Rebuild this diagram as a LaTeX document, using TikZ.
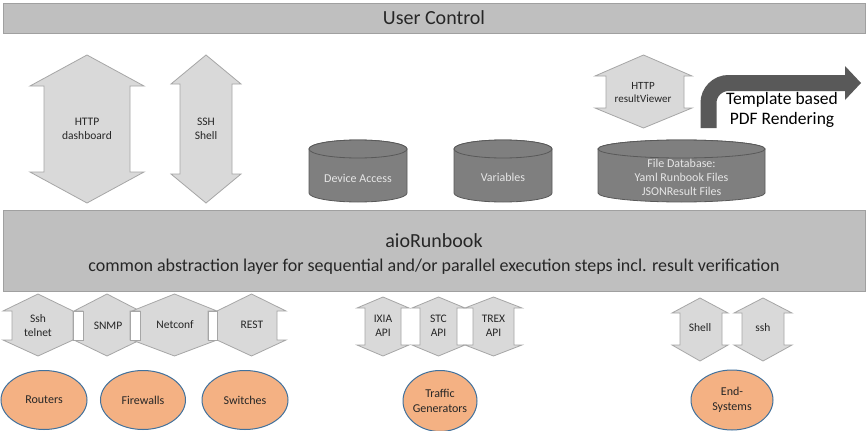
\documentclass[tikz,border=0pt]{standalone}
\usepackage{fontspec}
\setmainfont{Carlito}
\usetikzlibrary{shapes.geometric}
\definecolor{barfill}{HTML}{BFBFBF}
\definecolor{barline}{HTML}{A0A0A0}
\definecolor{arrfill}{HTML}{D9D9D9}
\definecolor{arrline}{HTML}{A6A6A6}
\definecolor{cylfill}{HTML}{7F7F7F}
\definecolor{cylline}{HTML}{595959}
\definecolor{cyltext}{HTML}{E6E6E6}
\definecolor{darkarrow}{HTML}{595959}
\definecolor{devfill}{HTML}{F4B183}
\definecolor{devline}{HTML}{41719C}
\definecolor{txt}{HTML}{262626}
\newcommand{\vdarrow}[8]{%
  \pgfmathsetmacro{\vdtipx}{(#1+#4)/2}%
  \filldraw[arrowshape] (\vdtipx,#5) -- (#4,#6) -- (#3,#6) -- (#3,#7) -- (#4,#7) -- (\vdtipx,#8) -- (#1,#7) -- (#2,#7) -- (#2,#6) -- (#1,#6) -- cycle;}
\newcommand{\cylshape}[5]{% cx, rx, ytopcenter, ybottomcenter, ry
  \filldraw[cyl] ({#1-#2},#3) -- ({#1-#2},#4) arc[start angle=180,end angle=360,x radius=#2pt,y radius=#5pt] -- ({#1+#2},#3) arc[start angle=0,end angle=180,x radius=#2pt,y radius=#5pt] -- cycle;
  \draw[cyl] (#1,#3) ellipse[x radius=#2pt,y radius=#5pt];}
\begin{document}
\begin{tikzpicture}[x=1pt,y=-1pt,
  bar/.style={rectangle,fill=barfill,draw=barline,line width=1pt,inner sep=0pt},
  arrowshape/.style={fill=arrfill,draw=arrline,line width=0.8pt,line join=miter},
  gapbox/.style={fill=white,draw=arrline,line width=0.8pt},
  cyl/.style={fill=cylfill,draw=cylline,line width=0.8pt},
  device/.style={ellipse,fill=devfill,draw=devline,line width=1pt,inner sep=0pt},
  lbl/.style={font=\fontsize{11.5}{14}\selectfont,text=txt,align=center,inner sep=0pt},
  cyllbl/.style={lbl,font=\fontsize{12}{14}\selectfont,text=cyltext},
  devlbl/.style={lbl,font=\fontsize{12}{15}\selectfont},
  bigtxt/.style={font=\fontsize{20}{24}\selectfont,text=txt,inner sep=0pt},
  midtxt/.style={font=\fontsize{18}{21}\selectfont,text=txt,inner sep=0pt},
  rendtxt/.style={font=\fontsize{17.5}{20}\selectfont,text=black,inner sep=0pt,align=center}]
\useasboundingbox (0,0) rectangle (868,431);
\fill[white] (0,0) rectangle (868,431);

% top bar
\node[bar,minimum width=862pt,minimum height=30pt] (uc) at (434,18) {};
\node[bigtxt] (uctext) at (434,18) {User Control};

% upper arrows
\vdarrow{30}{44}{130}{144}{55}{86}{172}{203}
\node[lbl] (dash) at (87,129) {HTTP\\dashboard};
\vdarrow{171}{180}{232}{241}{55}{84}{174}{203}
\node[lbl] (sshshell) at (206,129) {SSH\\Shell};
\vdarrow{595}{606}{684}{692}{55}{76}{108}{128}
\node[lbl,font=\fontsize{11}{13}\selectfont] (rv) at (643,93) {HTTP\\resultViewer};

% curved arrow
\draw[darkarrow,line width=16pt,rounded corners=20pt] (708.5,128) |- (845,83);
\fill[darkarrow] (845,66) -- (861,83) -- (845,100) -- cycle;
\node[rendtxt] (pdf) at (782,110) {Template based\\PDF Rendering};

% cylinders
\cylshape{358}{49}{149}{193}{9}
\node[cyllbl] (dev) at (358,178) {Device Access};
\cylshape{503}{49}{149}{193}{9}
\node[cyllbl] (var) at (503,177) {Variables};
\cylshape{681.5}{83.5}{149}{193}{9}
\node[cyllbl] (fdb) at (681.5,177) {File Database:\\Yaml Runbook Files\\JSONResult Files};

% aioRunbook bar
\node[bar,minimum width=862pt,minimum height=81pt] (aio) at (434,250.5) {};
\node[bigtxt] (aiot) at (434,241) {aioRunbook};
\node[midtxt] (aios) at (434,267) {common abstraction layer for sequential and/or parallel execution steps incl. result verification};

% device protocol arrows
\vdarrow{3}{12}{73}{73}{294}{311}{340}{356}
\vdarrow{74}{83}{130}{140}{294}{311}{340}{356}
\vdarrow{132}{140}{208}{217}{294}{311}{340}{356}
\vdarrow{217}{217}{277}{286}{294}{311}{340}{356}
\draw[gapbox] (73,311) rectangle (83,340);
\draw[gapbox] (130,311) rectangle (140,340);
\draw[gapbox] (208,311) rectangle (217,340);
\node[lbl] (ssh) at (38,326) {Ssh\\telnet};
\node[lbl] (snmp) at (108,326) {SNMP};
\node[lbl] (netconf) at (175,325) {Netconf};
\node[lbl] (rest) at (252,325) {REST};

% traffic generator APIs
\vdarrow{357}{365}{401}{409}{297}{308}{345}{356}
\vdarrow{412}{420}{457}{465}{297}{308}{345}{356}
\vdarrow{465}{473}{514}{522}{297}{308}{345}{356}
\node[lbl] (ixia) at (383,326) {IXIA\\API};
\node[lbl] (stc) at (438.5,326) {STC\\API};
\node[lbl] (trex) at (493.5,326) {TREX\\API};

% end system arrows
\vdarrow{672}{680}{722}{728}{298}{313}{345}{361}
\vdarrow{734}{742}{784}{792}{298}{313}{345}{361}
\node[lbl] (shell) at (700,328) {Shell};
\node[lbl] (sshb) at (763,328) {ssh};

% devices
\node[device,minimum width=86pt,minimum height=59pt] (routers) at (44,400) {};
\node[devlbl] at (routers) {Routers};
\node[device,minimum width=85pt,minimum height=59pt] (firewalls) at (143,400) {};
\node[devlbl] at (firewalls) {Firewalls};
\node[device,minimum width=86pt,minimum height=59pt] (switches) at (245,400) {};
\node[devlbl] at (switches) {Switches};
\node[device,minimum width=74pt,minimum height=61pt] (traffic) at (440,401) {};
\node[devlbl] at (traffic) {Traffic\\Generators};
\node[device,minimum width=82pt,minimum height=60pt] (endsys) at (732,400) {};
\node[devlbl] at (endsys) {End-\\Systems};
\end{tikzpicture}
\end{document}
